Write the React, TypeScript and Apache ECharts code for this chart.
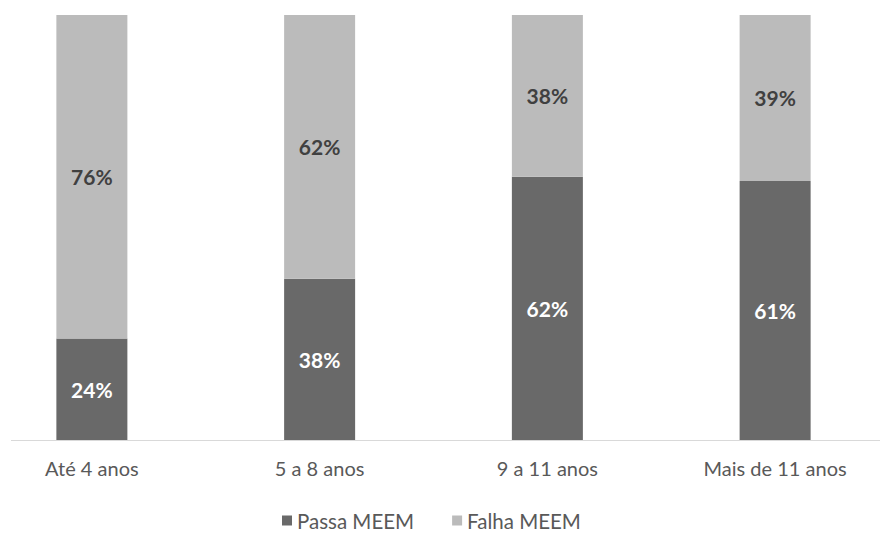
import React, { useEffect, useRef } from "react";
import * as echarts from "echarts";

const categories = ["Até 4 anos", "5 a 8 anos", "9 a 11 anos", "Mais de 11 anos"];
const passaValues = [24, 38, 62, 61];
const falhaValues = [76, 62, 38, 39];
const seriesNames = ["Passa MEEM", "Falha MEEM"];

const FONT = "Lato, 'Noto Sans', sans-serif";

export default function App() {
  const ref = useRef<HTMLDivElement>(null);
  useEffect(() => {
    const chart = echarts.init(ref.current!, null, { renderer: "svg" });
    chart.setOption({
      animation: false,
      backgroundColor: "#ffffff",
      textStyle: { fontFamily: FONT },
      grid: { left: 0, right: 0, top: 15, bottom: 92.5, containLabel: false },
      legend: {
        top: 510,
        left: 304,
        padding: 0,
        itemWidth: 10,
        itemHeight: 10,
        itemGap: 38,
        icon: "rect",
        textStyle: { fontFamily: FONT, fontSize: 20.5, lineHeight: 20, color: "#595959" },
        data: seriesNames,
      },
      xAxis: {
        type: "category",
        data: categories,
        axisLine: { show: false },
        axisTick: { show: false },
        axisLabel: { fontFamily: FONT, fontSize: 20, color: "#595959", margin: 17 },
      },
      yAxis: {
        type: "value",
        min: 0,
        max: 100,
        show: false,
        splitLine: { show: false },
      },
      graphic: [
        {
          type: "line",
          shape: { x1: 33, y1: 440.5, x2: 902, y2: 440.5 },
          style: { stroke: "#d9d9d9", lineWidth: 1 },
          z: 10,
        },
      ],
      series: [
        {
          name: seriesNames[0],
          type: "bar",
          stack: "total",
          data: passaValues,
          barWidth: 71,
          itemStyle: { color: "#696969" },
          label: {
            show: true,
            position: "inside",
            formatter: "{c}%",
            fontFamily: FONT,
            fontSize: 21,
            fontWeight: "bold",
            color: "#ffffff",
          },
        },
        {
          name: seriesNames[1],
          type: "bar",
          stack: "total",
          data: falhaValues,
          barWidth: 71,
          itemStyle: { color: "#bbbbbb" },
          label: {
            show: true,
            position: "inside",
            formatter: "{c}%",
            fontFamily: FONT,
            fontSize: 21,
            fontWeight: "bold",
            color: "#404040",
          },
        },
      ],
    });
    return () => chart.dispose();
  }, []);
  return (
    <div style={{ position: "absolute", left: 0, top: 0, width: 880, height: 533, overflow: "hidden" }}>
      <div ref={ref} style={{ width: 911, height: 533, position: "absolute", left: -22, top: 0 }} />
    </div>
  );
}
